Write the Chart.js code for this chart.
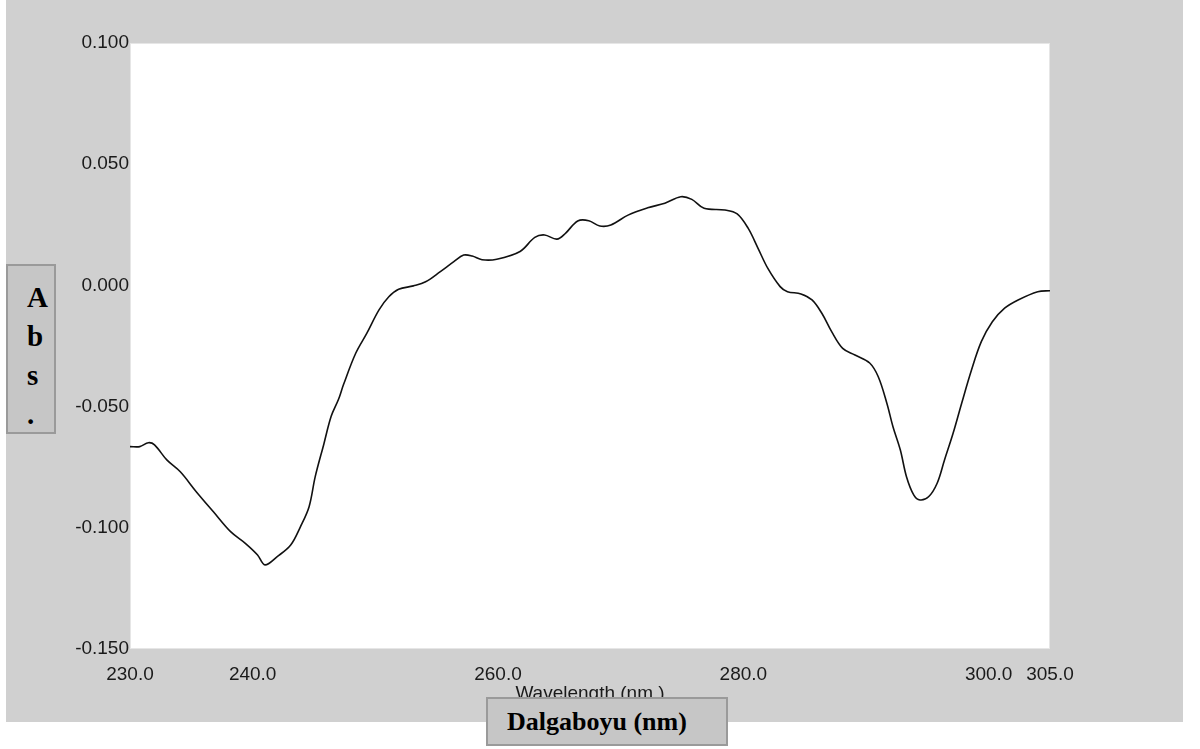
<!DOCTYPE html>
<html>
<head>
<meta charset="utf-8">
<script src="https://cdn.jsdelivr.net/npm/chart.js@4.4.1/dist/chart.umd.min.js"></script>
<style>
  html, body { margin: 0; padding: 0; background: #ffffff; }
  #wrap { position: relative; width: 1200px; height: 749px; overflow: hidden; }
  #panel { position: absolute; left: 6px; top: 0; width: 1177px; height: 722px; background: #d0d0d0; }
  #spectrum { position: absolute; left: 0; top: 0; }
  .lbl {
    position: absolute; box-sizing: border-box; background: #c6c6c6;
    border: 2px solid #9a9a9a; font-family: "Liberation Serif", "Times New Roman", serif;
    font-weight: bold; color: #000;
  }
  #absBox { left: 6px; top: 264px; width: 50px; height: 170px; padding-left: 19px; font-size: 29px; line-height: 39px; padding-top: 12px; }
  #xBox { left: 486px; top: 697px; width: 242px; height: 49px; padding-left: 19px; font-size: 26px; line-height: 45px; }
</style>
</head>
<body>
<div id="wrap">
  <div id="panel"></div>
  <canvas id="spectrum" width="1200" height="749"></canvas>
  <div class="lbl" id="absBox">A<br>b<br>s<br>.</div>
  <div class="lbl" id="xBox">Dalgaboyu (nm)</div>
</div>
<script>
// wavelength (nm) and absorbance
const wavelength = [
  230.0, 230.8, 231.5, 232.0, 233.0, 234.1, 235.4, 236.8, 238.2, 239.4,
  240.4, 241.0, 242.0, 243.1, 243.9, 244.6, 245.1, 245.8, 246.4, 247.0,
  247.4, 248.4, 249.3, 250.3, 251.1, 251.9, 253.1, 254.1, 255.3, 256.4,
  257.2, 257.9, 258.7, 259.9, 261.8, 263.0, 263.8, 264.8, 265.5, 266.5,
  267.4, 268.3, 269.2, 270.6, 272.2, 273.6, 274.9, 275.8, 276.8, 278.5,
  279.5, 280.4, 281.2, 282.0, 283.0, 283.6, 284.7, 285.6, 286.4, 287.2,
  288.1, 289.1, 290.3, 291.0, 291.7, 292.2, 292.8, 293.3, 293.9, 294.4,
  295.1, 295.8, 296.4, 297.1, 297.8, 298.6, 299.4, 300.3, 301.3, 302.4,
  304.0, 305.0
];
const absorbance = [
  -0.0665, -0.0665, -0.0649, -0.0658, -0.0720, -0.0769, -0.0851, -0.0934, -0.1016, -0.1064,
  -0.1112, -0.1153, -0.1119, -0.1071, -0.0995, -0.0913, -0.0789, -0.0655, -0.0540, -0.0470,
  -0.0410, -0.0280, -0.0198, -0.0101, -0.0047, -0.0016, -0.0002, 0.0015, 0.0057, 0.0098,
  0.0125, 0.0121, 0.0106, 0.0108, 0.0140, 0.0198, 0.0208, 0.0191, 0.0215, 0.0266,
  0.0267, 0.0245, 0.0249, 0.0290, 0.0320, 0.0339, 0.0366, 0.0355, 0.0318, 0.0311,
  0.0295, 0.0235, 0.0153, 0.0070, -0.0005, -0.0026, -0.0035, -0.0060, -0.0115, -0.0191,
  -0.0260, -0.0287, -0.0320, -0.0377, -0.0486, -0.0583, -0.0679, -0.0789, -0.0865, -0.0885,
  -0.0872, -0.0816, -0.0720, -0.0610, -0.0486, -0.0349, -0.0232, -0.0150, -0.0094, -0.0060,
  -0.0026, -0.0022
];
const xTickValues = [230, 240, 260, 280, 300, 305];
const yTickValues = [-0.15, -0.1, -0.05, 0, 0.05, 0.1];

const tickFont = { family: "'Liberation Sans Narrow', 'Arial Narrow', 'Liberation Sans', Arial, sans-serif", size: 19 };

// white plot area like the old instrument software
const plotBg = {
  id: "plotBg",
  beforeDraw(chart) {
    const { ctx, chartArea: a } = chart;
    ctx.save();
    ctx.fillStyle = "#ffffff";
    ctx.fillRect(a.left, a.top, a.right - a.left, a.bottom - a.top);
    ctx.strokeStyle = "#e6e6e6";
    ctx.lineWidth = 1;
    ctx.strokeRect(a.left + 0.5, a.top + 0.5, a.right - a.left - 1, a.bottom - a.top - 1);
    ctx.restore();
  },
};

const ctx = document.getElementById("spectrum");

new Chart(ctx, {
  type: "line",
  data: {
    datasets: [
      {
        data: wavelength.map((w, i) => ({ x: w, y: absorbance[i] })),
        borderColor: "#111111",
        borderWidth: 1.6,
        pointRadius: 0,
        fill: false,
        tension: 0.35,
      },
    ],
  },
  options: {
    responsive: false,
    animation: false,
    layout: { padding: { left: 0, top: 43, right: 150, bottom: 40 } },
    plugins: { legend: { display: false }, tooltip: { enabled: false } },
    scales: {
      x: {
        type: "linear",
        min: 230,
        max: 305,
        afterBuildTicks: (scale) => {
          scale.ticks = xTickValues.map((v) => ({ value: v }));
        },
        afterFit: (scale) => {
          scale.height = 60;
        },
        grid: { display: false, drawTicks: false },
        border: { display: false },
        ticks: {
          padding: 14,
          color: "#1a1a1a",
          font: tickFont,
          maxRotation: 0,
          autoSkip: false,
          callback: (v) => Number(v).toFixed(1),
        },
        title: {
          display: true,
          text: "Wavelength (nm )",
          color: "#1a1a1a",
          font: tickFont,
          padding: { top: 0, bottom: 4 },
        },
      },
      y: {
        min: -0.15,
        max: 0.1,
        afterBuildTicks: (scale) => {
          scale.ticks = yTickValues.map((v) => ({ value: v }));
        },
        afterFit: (scale) => {
          scale.width = 130;
        },
        grid: { display: false, drawTicks: false },
        border: { display: false },
        ticks: {
          padding: 1,
          color: "#1a1a1a",
          font: tickFont,
          callback: (v) => Number(v).toFixed(3),
        },
      },
    },
  },
  plugins: [plotBg],
});
</script>
</body>
</html>
